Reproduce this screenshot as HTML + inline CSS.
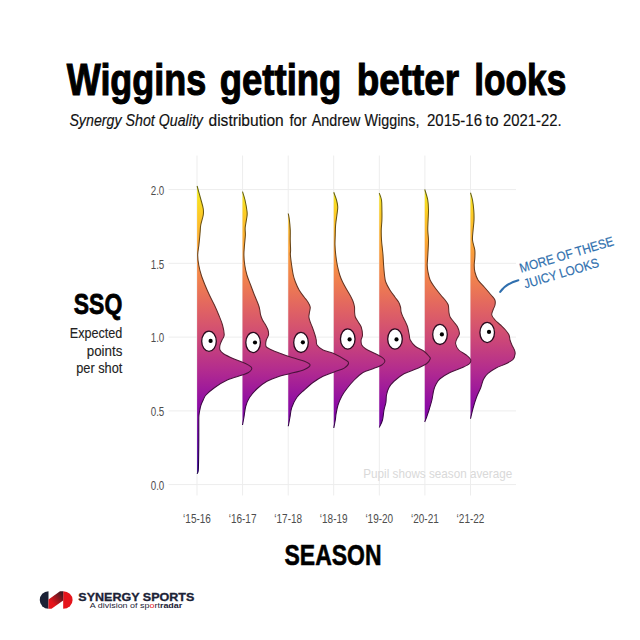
<!DOCTYPE html><html><head><meta charset="utf-8"><style>html,body{margin:0;padding:0;background:#fff;}svg{display:block;}</style></head><body><svg width="640" height="640" viewBox="0 0 640 640">
<defs><linearGradient id="pl" gradientUnits="userSpaceOnUse" x1="0" y1="500" x2="0" y2="180">
<stop offset="0.00" stop-color="#0d0887"/>
<stop offset="0.10" stop-color="#41049d"/>
<stop offset="0.20" stop-color="#6a00a8"/>
<stop offset="0.30" stop-color="#8f0da4"/>
<stop offset="0.40" stop-color="#b12a90"/>
<stop offset="0.50" stop-color="#cc4778"/>
<stop offset="0.60" stop-color="#e16462"/>
<stop offset="0.70" stop-color="#f2844b"/>
<stop offset="0.80" stop-color="#fca636"/>
<stop offset="0.90" stop-color="#fcce25"/>
<stop offset="1.00" stop-color="#f0f921"/>
</linearGradient>
<linearGradient id="pld" gradientUnits="userSpaceOnUse" x1="0" y1="500" x2="0" y2="180">
<stop offset="0.00" stop-color="#050338"/>
<stop offset="0.10" stop-color="#1b0141"/>
<stop offset="0.20" stop-color="#2c0046"/>
<stop offset="0.30" stop-color="#3c0544"/>
<stop offset="0.40" stop-color="#4a113c"/>
<stop offset="0.50" stop-color="#551d32"/>
<stop offset="0.60" stop-color="#5e2a29"/>
<stop offset="0.70" stop-color="#65371f"/>
<stop offset="0.80" stop-color="#694516"/>
<stop offset="0.90" stop-color="#69560f"/>
<stop offset="1.00" stop-color="#64680d"/>
</linearGradient>
<linearGradient id="lg" x1="0" y1="1" x2="1" y2="0"><stop offset="0.3" stop-color="#e5141b"/><stop offset="1" stop-color="#2a1a22"/></linearGradient>
</defs>
<rect width="640" height="640" fill="#fff"/>
<g stroke="#ededed" stroke-width="1" fill="none"><line x1="168.5" y1="189.6" x2="516" y2="189.6"/><line x1="168.5" y1="263.3" x2="516" y2="263.3"/><line x1="168.5" y1="337.1" x2="516" y2="337.1"/><line x1="168.5" y1="410.9" x2="516" y2="410.9"/><line x1="168.5" y1="484.6" x2="516" y2="484.6"/><line x1="197.0" y1="155.5" x2="197.0" y2="495.5"/><line x1="242.6" y1="155.5" x2="242.6" y2="495.5"/><line x1="288.2" y1="155.5" x2="288.2" y2="495.5"/><line x1="333.7" y1="155.5" x2="333.7" y2="495.5"/><line x1="379.3" y1="155.5" x2="379.3" y2="495.5"/><line x1="424.9" y1="155.5" x2="424.9" y2="495.5"/><line x1="470.5" y1="155.5" x2="470.5" y2="495.5"/></g>
<text x="150.70" y="194.80" font-family="Liberation Sans, sans-serif" font-size="12.40" font-weight="normal" font-style="normal" textLength="13.60" lengthAdjust="spacingAndGlyphs" fill="#4d4d4d">2.0</text>
<text x="150.70" y="268.50" font-family="Liberation Sans, sans-serif" font-size="12.40" font-weight="normal" font-style="normal" textLength="13.60" lengthAdjust="spacingAndGlyphs" fill="#4d4d4d">1.5</text>
<text x="150.70" y="342.30" font-family="Liberation Sans, sans-serif" font-size="12.40" font-weight="normal" font-style="normal" textLength="13.60" lengthAdjust="spacingAndGlyphs" fill="#4d4d4d">1.0</text>
<text x="150.70" y="416.10" font-family="Liberation Sans, sans-serif" font-size="12.40" font-weight="normal" font-style="normal" textLength="13.60" lengthAdjust="spacingAndGlyphs" fill="#4d4d4d">0.5</text>
<text x="150.70" y="489.80" font-family="Liberation Sans, sans-serif" font-size="12.40" font-weight="normal" font-style="normal" textLength="13.60" lengthAdjust="spacingAndGlyphs" fill="#4d4d4d">0.0</text>
<text x="183.10" y="523.40" font-family="Liberation Sans, sans-serif" font-size="12.40" font-weight="normal" font-style="normal" textLength="27.80" lengthAdjust="spacingAndGlyphs" fill="#4d4d4d">‘15-16</text>
<text x="228.70" y="523.40" font-family="Liberation Sans, sans-serif" font-size="12.40" font-weight="normal" font-style="normal" textLength="27.80" lengthAdjust="spacingAndGlyphs" fill="#4d4d4d">‘16-17</text>
<text x="274.30" y="523.40" font-family="Liberation Sans, sans-serif" font-size="12.40" font-weight="normal" font-style="normal" textLength="27.80" lengthAdjust="spacingAndGlyphs" fill="#4d4d4d">‘17-18</text>
<text x="319.80" y="523.40" font-family="Liberation Sans, sans-serif" font-size="12.40" font-weight="normal" font-style="normal" textLength="27.80" lengthAdjust="spacingAndGlyphs" fill="#4d4d4d">‘18-19</text>
<text x="365.40" y="523.40" font-family="Liberation Sans, sans-serif" font-size="12.40" font-weight="normal" font-style="normal" textLength="27.80" lengthAdjust="spacingAndGlyphs" fill="#4d4d4d">‘19-20</text>
<text x="411.00" y="523.40" font-family="Liberation Sans, sans-serif" font-size="12.40" font-weight="normal" font-style="normal" textLength="27.80" lengthAdjust="spacingAndGlyphs" fill="#4d4d4d">‘20-21</text>
<text x="456.60" y="523.40" font-family="Liberation Sans, sans-serif" font-size="12.40" font-weight="normal" font-style="normal" textLength="27.80" lengthAdjust="spacingAndGlyphs" fill="#4d4d4d">‘21-22</text>
<text x="363.30" y="478.40" font-family="Liberation Sans, sans-serif" font-size="13.60" font-weight="normal" font-style="normal" textLength="148.90" lengthAdjust="spacingAndGlyphs" fill="#d9d9d9">Pupil shows season average</text>
<path d="M470.50,192.75 L470.50,192.75 C470.83,193.96 471.96,197.12 472.50,200.00 C473.04,202.88 473.50,206.67 473.75,210.00 C474.00,213.33 474.11,216.67 474.00,220.00 C473.89,223.33 473.35,226.67 473.10,230.00 C472.85,233.33 472.22,236.67 472.50,240.00 C472.78,243.33 474.42,247.00 474.80,250.00 C475.18,253.00 474.90,255.50 474.80,258.00 C474.70,260.50 474.18,262.67 474.20,265.00 C474.22,267.33 474.27,269.50 474.90,272.00 C475.53,274.50 476.44,277.50 478.00,280.00 C479.56,282.50 482.07,284.50 484.25,287.00 C486.43,289.50 489.33,292.83 491.10,295.00 C492.88,297.17 494.25,298.33 494.90,300.00 C495.55,301.67 495.32,303.33 495.00,305.00 C494.68,306.67 493.54,308.33 493.00,310.00 C492.46,311.67 491.42,313.33 491.75,315.00 C492.08,316.67 493.54,318.33 495.00,320.00 C496.46,321.67 498.75,323.33 500.50,325.00 C502.25,326.67 504.08,328.33 505.50,330.00 C506.92,331.67 508.25,333.33 509.00,335.00 C509.75,336.67 509.52,338.33 510.00,340.00 C510.48,341.67 511.17,343.33 511.90,345.00 C512.63,346.67 513.87,348.52 514.40,350.00 C514.93,351.48 515.33,352.32 515.10,353.90 C514.87,355.48 514.52,357.86 513.00,359.50 C511.48,361.14 508.82,362.33 506.00,363.75 C503.18,365.17 499.15,366.36 496.10,368.00 C493.05,369.64 489.80,371.73 487.70,373.60 C485.60,375.47 484.67,376.85 483.50,379.20 C482.33,381.55 481.88,384.65 480.70,387.70 C479.52,390.75 477.70,393.99 476.40,397.50 C475.10,401.01 473.88,405.21 472.90,408.75 C471.92,412.29 470.90,417.08 470.50,418.75 L470.50,418.75 Z" fill="url(#pl)"/>
<path d="M470.50,192.75 C470.83,193.96 471.96,197.12 472.50,200.00 C473.04,202.88 473.50,206.67 473.75,210.00 C474.00,213.33 474.11,216.67 474.00,220.00 C473.89,223.33 473.35,226.67 473.10,230.00 C472.85,233.33 472.22,236.67 472.50,240.00 C472.78,243.33 474.42,247.00 474.80,250.00 C475.18,253.00 474.90,255.50 474.80,258.00 C474.70,260.50 474.18,262.67 474.20,265.00 C474.22,267.33 474.27,269.50 474.90,272.00 C475.53,274.50 476.44,277.50 478.00,280.00 C479.56,282.50 482.07,284.50 484.25,287.00 C486.43,289.50 489.33,292.83 491.10,295.00 C492.88,297.17 494.25,298.33 494.90,300.00 C495.55,301.67 495.32,303.33 495.00,305.00 C494.68,306.67 493.54,308.33 493.00,310.00 C492.46,311.67 491.42,313.33 491.75,315.00 C492.08,316.67 493.54,318.33 495.00,320.00 C496.46,321.67 498.75,323.33 500.50,325.00 C502.25,326.67 504.08,328.33 505.50,330.00 C506.92,331.67 508.25,333.33 509.00,335.00 C509.75,336.67 509.52,338.33 510.00,340.00 C510.48,341.67 511.17,343.33 511.90,345.00 C512.63,346.67 513.87,348.52 514.40,350.00 C514.93,351.48 515.33,352.32 515.10,353.90 C514.87,355.48 514.52,357.86 513.00,359.50 C511.48,361.14 508.82,362.33 506.00,363.75 C503.18,365.17 499.15,366.36 496.10,368.00 C493.05,369.64 489.80,371.73 487.70,373.60 C485.60,375.47 484.67,376.85 483.50,379.20 C482.33,381.55 481.88,384.65 480.70,387.70 C479.52,390.75 477.70,393.99 476.40,397.50 C475.10,401.01 473.88,405.21 472.90,408.75 C471.92,412.29 470.90,417.08 470.50,418.75 " fill="none" stroke="url(#pld)" stroke-width="1.05" stroke-linejoin="round"/>
<ellipse cx="487.20" cy="332.50" rx="7.3" ry="10.1" fill="#fff" stroke="#2a0a1e" stroke-width="1.3"/>
<circle cx="489.00" cy="331.90" r="2.1" fill="#000"/>
<path d="M424.75,189.40 L424.75,189.40 C425.25,191.17 427.12,196.57 427.75,200.00 C428.38,203.43 428.44,206.67 428.50,210.00 C428.56,213.33 428.23,216.67 428.10,220.00 C427.98,223.33 427.68,226.67 427.75,230.00 C427.82,233.33 428.44,236.67 428.50,240.00 C428.56,243.33 428.27,246.67 428.10,250.00 C427.93,253.33 427.65,257.50 427.50,260.00 C427.35,262.50 427.12,263.00 427.20,265.00 C427.28,267.00 427.52,269.50 428.00,272.00 C428.48,274.50 429.02,277.50 430.10,280.00 C431.18,282.50 432.73,284.50 434.50,287.00 C436.27,289.50 438.98,292.83 440.75,295.00 C442.52,297.17 443.85,298.33 445.10,300.00 C446.35,301.67 447.62,303.00 448.25,305.00 C448.88,307.00 448.59,310.00 448.90,312.00 C449.21,314.00 449.27,315.33 450.10,317.00 C450.93,318.67 452.65,320.33 453.90,322.00 C455.15,323.67 456.68,325.04 457.60,327.00 C458.52,328.96 459.52,331.79 459.40,333.75 C459.28,335.71 457.53,337.08 456.90,338.75 C456.27,340.42 455.29,341.88 455.60,343.75 C455.91,345.62 456.98,348.12 458.75,350.00 C460.52,351.88 464.27,353.43 466.25,355.00 C468.23,356.57 470.08,357.94 470.60,359.40 C471.12,360.86 470.75,362.40 469.40,363.75 C468.05,365.10 465.73,366.04 462.50,367.50 C459.27,368.96 453.75,370.62 450.00,372.50 C446.25,374.38 442.29,376.88 440.00,378.75 C437.71,380.62 437.29,381.88 436.25,383.75 C435.21,385.62 434.48,387.29 433.75,390.00 C433.02,392.71 432.62,396.88 431.90,400.00 C431.17,403.12 430.22,406.08 429.40,408.75 C428.58,411.42 427.77,413.79 427.00,416.00 C426.23,418.21 425.12,421.00 424.75,422.00 L424.75,422.00 Z" fill="url(#pl)"/>
<path d="M424.75,189.40 C425.25,191.17 427.12,196.57 427.75,200.00 C428.38,203.43 428.44,206.67 428.50,210.00 C428.56,213.33 428.23,216.67 428.10,220.00 C427.98,223.33 427.68,226.67 427.75,230.00 C427.82,233.33 428.44,236.67 428.50,240.00 C428.56,243.33 428.27,246.67 428.10,250.00 C427.93,253.33 427.65,257.50 427.50,260.00 C427.35,262.50 427.12,263.00 427.20,265.00 C427.28,267.00 427.52,269.50 428.00,272.00 C428.48,274.50 429.02,277.50 430.10,280.00 C431.18,282.50 432.73,284.50 434.50,287.00 C436.27,289.50 438.98,292.83 440.75,295.00 C442.52,297.17 443.85,298.33 445.10,300.00 C446.35,301.67 447.62,303.00 448.25,305.00 C448.88,307.00 448.59,310.00 448.90,312.00 C449.21,314.00 449.27,315.33 450.10,317.00 C450.93,318.67 452.65,320.33 453.90,322.00 C455.15,323.67 456.68,325.04 457.60,327.00 C458.52,328.96 459.52,331.79 459.40,333.75 C459.28,335.71 457.53,337.08 456.90,338.75 C456.27,340.42 455.29,341.88 455.60,343.75 C455.91,345.62 456.98,348.12 458.75,350.00 C460.52,351.88 464.27,353.43 466.25,355.00 C468.23,356.57 470.08,357.94 470.60,359.40 C471.12,360.86 470.75,362.40 469.40,363.75 C468.05,365.10 465.73,366.04 462.50,367.50 C459.27,368.96 453.75,370.62 450.00,372.50 C446.25,374.38 442.29,376.88 440.00,378.75 C437.71,380.62 437.29,381.88 436.25,383.75 C435.21,385.62 434.48,387.29 433.75,390.00 C433.02,392.71 432.62,396.88 431.90,400.00 C431.17,403.12 430.22,406.08 429.40,408.75 C428.58,411.42 427.77,413.79 427.00,416.00 C426.23,418.21 425.12,421.00 424.75,422.00 " fill="none" stroke="url(#pld)" stroke-width="1.05" stroke-linejoin="round"/>
<ellipse cx="440.00" cy="334.40" rx="7.3" ry="10.1" fill="#fff" stroke="#2a0a1e" stroke-width="1.3"/>
<circle cx="441.90" cy="334.40" r="2.1" fill="#000"/>
<path d="M379.25,193.10 L379.25,193.10 C379.62,194.25 381.06,197.18 381.50,200.00 C381.94,202.82 381.83,206.67 381.90,210.00 C381.97,213.33 382.01,216.67 381.90,220.00 C381.79,223.33 381.32,226.67 381.25,230.00 C381.18,233.33 381.29,236.67 381.50,240.00 C381.71,243.33 382.25,247.50 382.50,250.00 C382.75,252.50 382.82,252.50 383.00,255.00 C383.18,257.50 383.35,261.67 383.60,265.00 C383.85,268.33 384.14,272.17 384.50,275.00 C384.86,277.83 384.85,279.50 385.75,282.00 C386.65,284.50 388.38,287.50 389.90,290.00 C391.42,292.50 393.45,295.00 394.90,297.00 C396.35,299.00 397.67,300.33 398.60,302.00 C399.53,303.67 400.08,305.33 400.50,307.00 C400.92,308.67 400.68,310.33 401.10,312.00 C401.52,313.67 402.27,315.33 403.00,317.00 C403.73,318.67 404.73,320.33 405.50,322.00 C406.27,323.67 406.98,324.83 407.60,327.00 C408.23,329.17 408.81,332.83 409.25,335.00 C409.69,337.17 409.25,338.12 410.25,340.00 C411.25,341.88 412.96,344.38 415.25,346.25 C417.54,348.12 421.71,349.58 424.00,351.25 C426.29,352.92 427.96,355.00 429.00,356.25 C430.04,357.50 430.67,357.50 430.25,358.75 C429.83,360.00 428.79,362.08 426.50,363.75 C424.21,365.42 420.25,367.08 416.50,368.75 C412.75,370.42 407.75,371.67 404.00,373.75 C400.25,375.83 396.50,378.96 394.00,381.25 C391.50,383.54 390.25,385.21 389.00,387.50 C387.75,389.79 387.02,392.50 386.50,395.00 C385.98,397.50 386.32,400.00 385.90,402.50 C385.48,405.00 384.57,407.08 384.00,410.00 C383.43,412.92 383.29,417.08 382.50,420.00 C381.71,422.92 379.79,426.25 379.25,427.50 L379.25,427.50 Z" fill="url(#pl)"/>
<path d="M379.25,193.10 C379.62,194.25 381.06,197.18 381.50,200.00 C381.94,202.82 381.83,206.67 381.90,210.00 C381.97,213.33 382.01,216.67 381.90,220.00 C381.79,223.33 381.32,226.67 381.25,230.00 C381.18,233.33 381.29,236.67 381.50,240.00 C381.71,243.33 382.25,247.50 382.50,250.00 C382.75,252.50 382.82,252.50 383.00,255.00 C383.18,257.50 383.35,261.67 383.60,265.00 C383.85,268.33 384.14,272.17 384.50,275.00 C384.86,277.83 384.85,279.50 385.75,282.00 C386.65,284.50 388.38,287.50 389.90,290.00 C391.42,292.50 393.45,295.00 394.90,297.00 C396.35,299.00 397.67,300.33 398.60,302.00 C399.53,303.67 400.08,305.33 400.50,307.00 C400.92,308.67 400.68,310.33 401.10,312.00 C401.52,313.67 402.27,315.33 403.00,317.00 C403.73,318.67 404.73,320.33 405.50,322.00 C406.27,323.67 406.98,324.83 407.60,327.00 C408.23,329.17 408.81,332.83 409.25,335.00 C409.69,337.17 409.25,338.12 410.25,340.00 C411.25,341.88 412.96,344.38 415.25,346.25 C417.54,348.12 421.71,349.58 424.00,351.25 C426.29,352.92 427.96,355.00 429.00,356.25 C430.04,357.50 430.67,357.50 430.25,358.75 C429.83,360.00 428.79,362.08 426.50,363.75 C424.21,365.42 420.25,367.08 416.50,368.75 C412.75,370.42 407.75,371.67 404.00,373.75 C400.25,375.83 396.50,378.96 394.00,381.25 C391.50,383.54 390.25,385.21 389.00,387.50 C387.75,389.79 387.02,392.50 386.50,395.00 C385.98,397.50 386.32,400.00 385.90,402.50 C385.48,405.00 384.57,407.08 384.00,410.00 C383.43,412.92 383.29,417.08 382.50,420.00 C381.71,422.92 379.79,426.25 379.25,427.50 " fill="none" stroke="url(#pld)" stroke-width="1.05" stroke-linejoin="round"/>
<ellipse cx="395.00" cy="339.00" rx="7.3" ry="10.1" fill="#fff" stroke="#2a0a1e" stroke-width="1.3"/>
<circle cx="396.50" cy="339.40" r="2.1" fill="#000"/>
<path d="M333.75,192.25 L333.75,192.25 C334.21,193.54 335.83,197.54 336.50,200.00 C337.17,202.46 337.68,204.50 337.75,207.00 C337.82,209.50 337.26,212.00 336.90,215.00 C336.54,218.00 335.88,221.67 335.60,225.00 C335.33,228.33 335.35,231.67 335.25,235.00 C335.15,238.33 334.92,241.67 335.00,245.00 C335.08,248.33 335.38,251.67 335.75,255.00 C336.12,258.33 336.58,261.67 337.25,265.00 C337.92,268.33 338.86,272.17 339.75,275.00 C340.64,277.83 341.39,279.50 342.60,282.00 C343.81,284.50 345.60,287.50 347.00,290.00 C348.40,292.50 349.96,295.00 351.00,297.00 C352.04,299.00 352.67,300.33 353.25,302.00 C353.83,303.67 354.27,305.33 354.50,307.00 C354.73,308.67 354.47,310.33 354.60,312.00 C354.73,313.67 354.69,315.33 355.30,317.00 C355.91,318.67 357.27,320.33 358.25,322.00 C359.23,323.67 360.49,324.83 361.20,327.00 C361.91,329.17 362.52,332.83 362.50,335.00 C362.48,337.17 361.23,338.33 361.10,340.00 C360.98,341.67 361.02,343.54 361.75,345.00 C362.48,346.46 363.21,347.29 365.50,348.75 C367.79,350.21 372.58,352.19 375.50,353.75 C378.42,355.31 381.43,356.85 383.00,358.10 C384.57,359.35 385.11,360.10 384.90,361.25 C384.69,362.40 383.73,363.75 381.75,365.00 C379.77,366.25 376.12,367.50 373.00,368.75 C369.88,370.00 366.12,370.62 363.00,372.50 C359.88,374.38 356.96,377.29 354.25,380.00 C351.54,382.71 348.83,386.04 346.75,388.75 C344.67,391.46 343.21,393.54 341.75,396.25 C340.29,398.96 338.94,402.08 338.00,405.00 C337.06,407.92 336.55,411.25 336.10,413.75 C335.65,416.25 335.69,417.62 335.30,420.00 C334.91,422.38 334.01,426.67 333.75,428.00 L333.75,428.00 Z" fill="url(#pl)"/>
<path d="M333.75,192.25 C334.21,193.54 335.83,197.54 336.50,200.00 C337.17,202.46 337.68,204.50 337.75,207.00 C337.82,209.50 337.26,212.00 336.90,215.00 C336.54,218.00 335.88,221.67 335.60,225.00 C335.33,228.33 335.35,231.67 335.25,235.00 C335.15,238.33 334.92,241.67 335.00,245.00 C335.08,248.33 335.38,251.67 335.75,255.00 C336.12,258.33 336.58,261.67 337.25,265.00 C337.92,268.33 338.86,272.17 339.75,275.00 C340.64,277.83 341.39,279.50 342.60,282.00 C343.81,284.50 345.60,287.50 347.00,290.00 C348.40,292.50 349.96,295.00 351.00,297.00 C352.04,299.00 352.67,300.33 353.25,302.00 C353.83,303.67 354.27,305.33 354.50,307.00 C354.73,308.67 354.47,310.33 354.60,312.00 C354.73,313.67 354.69,315.33 355.30,317.00 C355.91,318.67 357.27,320.33 358.25,322.00 C359.23,323.67 360.49,324.83 361.20,327.00 C361.91,329.17 362.52,332.83 362.50,335.00 C362.48,337.17 361.23,338.33 361.10,340.00 C360.98,341.67 361.02,343.54 361.75,345.00 C362.48,346.46 363.21,347.29 365.50,348.75 C367.79,350.21 372.58,352.19 375.50,353.75 C378.42,355.31 381.43,356.85 383.00,358.10 C384.57,359.35 385.11,360.10 384.90,361.25 C384.69,362.40 383.73,363.75 381.75,365.00 C379.77,366.25 376.12,367.50 373.00,368.75 C369.88,370.00 366.12,370.62 363.00,372.50 C359.88,374.38 356.96,377.29 354.25,380.00 C351.54,382.71 348.83,386.04 346.75,388.75 C344.67,391.46 343.21,393.54 341.75,396.25 C340.29,398.96 338.94,402.08 338.00,405.00 C337.06,407.92 336.55,411.25 336.10,413.75 C335.65,416.25 335.69,417.62 335.30,420.00 C334.91,422.38 334.01,426.67 333.75,428.00 " fill="none" stroke="url(#pld)" stroke-width="1.05" stroke-linejoin="round"/>
<ellipse cx="347.75" cy="339.00" rx="7.3" ry="10.1" fill="#fff" stroke="#2a0a1e" stroke-width="1.3"/>
<circle cx="349.60" cy="339.40" r="2.1" fill="#000"/>
<path d="M288.25,213.50 L288.25,213.50 C288.44,214.58 289.07,217.25 289.40,220.00 C289.73,222.75 290.11,226.67 290.25,230.00 C290.39,233.33 290.19,236.67 290.25,240.00 C290.31,243.33 290.58,247.50 290.60,250.00 C290.62,252.50 290.23,252.50 290.40,255.00 C290.57,257.50 291.12,261.67 291.60,265.00 C292.08,268.33 292.62,272.17 293.25,275.00 C293.88,277.83 294.42,279.50 295.40,282.00 C296.38,284.50 297.65,287.50 299.10,290.00 C300.55,292.50 302.63,295.00 304.10,297.00 C305.57,299.00 306.88,300.33 307.90,302.00 C308.92,303.67 309.93,305.33 310.20,307.00 C310.47,308.67 309.72,310.33 309.50,312.00 C309.28,313.67 308.78,315.33 308.90,317.00 C309.02,318.67 309.64,320.33 310.20,322.00 C310.76,323.67 311.45,324.83 312.25,327.00 C313.05,329.17 314.33,332.83 315.00,335.00 C315.67,337.17 315.92,338.33 316.25,340.00 C316.58,341.67 315.88,343.33 317.00,345.00 C318.12,346.67 320.12,348.54 323.00,350.00 C325.88,351.46 330.50,352.08 334.25,353.75 C338.00,355.42 343.11,358.44 345.50,360.00 C347.89,361.56 348.81,361.75 348.60,363.10 C348.39,364.45 346.64,366.63 344.25,368.10 C341.86,369.57 337.79,370.54 334.25,371.90 C330.71,373.26 326.54,374.48 323.00,376.25 C319.46,378.02 316.12,380.21 313.00,382.50 C309.88,384.79 306.96,387.50 304.25,390.00 C301.54,392.50 298.83,394.58 296.75,397.50 C294.67,400.42 292.89,404.17 291.75,407.50 C290.61,410.83 290.48,414.38 289.90,417.50 C289.32,420.62 288.52,424.79 288.25,426.25 L288.25,426.25 Z" fill="url(#pl)"/>
<path d="M288.25,213.50 C288.44,214.58 289.07,217.25 289.40,220.00 C289.73,222.75 290.11,226.67 290.25,230.00 C290.39,233.33 290.19,236.67 290.25,240.00 C290.31,243.33 290.58,247.50 290.60,250.00 C290.62,252.50 290.23,252.50 290.40,255.00 C290.57,257.50 291.12,261.67 291.60,265.00 C292.08,268.33 292.62,272.17 293.25,275.00 C293.88,277.83 294.42,279.50 295.40,282.00 C296.38,284.50 297.65,287.50 299.10,290.00 C300.55,292.50 302.63,295.00 304.10,297.00 C305.57,299.00 306.88,300.33 307.90,302.00 C308.92,303.67 309.93,305.33 310.20,307.00 C310.47,308.67 309.72,310.33 309.50,312.00 C309.28,313.67 308.78,315.33 308.90,317.00 C309.02,318.67 309.64,320.33 310.20,322.00 C310.76,323.67 311.45,324.83 312.25,327.00 C313.05,329.17 314.33,332.83 315.00,335.00 C315.67,337.17 315.92,338.33 316.25,340.00 C316.58,341.67 315.88,343.33 317.00,345.00 C318.12,346.67 320.12,348.54 323.00,350.00 C325.88,351.46 330.50,352.08 334.25,353.75 C338.00,355.42 343.11,358.44 345.50,360.00 C347.89,361.56 348.81,361.75 348.60,363.10 C348.39,364.45 346.64,366.63 344.25,368.10 C341.86,369.57 337.79,370.54 334.25,371.90 C330.71,373.26 326.54,374.48 323.00,376.25 C319.46,378.02 316.12,380.21 313.00,382.50 C309.88,384.79 306.96,387.50 304.25,390.00 C301.54,392.50 298.83,394.58 296.75,397.50 C294.67,400.42 292.89,404.17 291.75,407.50 C290.61,410.83 290.48,414.38 289.90,417.50 C289.32,420.62 288.52,424.79 288.25,426.25 " fill="none" stroke="url(#pld)" stroke-width="1.05" stroke-linejoin="round"/>
<ellipse cx="301.00" cy="342.40" rx="7.3" ry="10.1" fill="#fff" stroke="#2a0a1e" stroke-width="1.3"/>
<circle cx="302.90" cy="342.30" r="2.1" fill="#000"/>
<path d="M242.50,191.60 L242.50,191.60 C242.92,193.00 244.25,196.72 245.00,200.00 C245.75,203.28 246.67,208.54 247.00,211.25 C247.33,213.96 247.30,213.54 247.00,216.25 C246.70,218.96 245.47,224.38 245.20,227.50 C244.93,230.62 245.52,232.08 245.40,235.00 C245.28,237.92 244.75,241.67 244.50,245.00 C244.25,248.33 243.86,251.67 243.90,255.00 C243.94,258.33 244.25,261.67 244.75,265.00 C245.25,268.33 245.93,271.67 246.90,275.00 C247.88,278.33 249.35,281.67 250.60,285.00 C251.85,288.33 253.08,291.67 254.40,295.00 C255.72,298.33 257.60,302.50 258.50,305.00 C259.40,307.50 259.45,308.33 259.80,310.00 C260.15,311.67 260.15,313.33 260.60,315.00 C261.05,316.67 261.67,318.33 262.50,320.00 C263.33,321.67 264.68,323.33 265.60,325.00 C266.52,326.67 267.52,328.33 268.00,330.00 C268.48,331.67 268.79,333.33 268.50,335.00 C268.21,336.67 266.71,338.33 266.25,340.00 C265.79,341.67 265.62,343.75 265.75,345.00 C265.88,346.25 265.54,346.46 267.00,347.50 C268.46,348.54 270.33,349.58 274.50,351.25 C278.67,352.92 287.00,355.83 292.00,357.50 C297.00,359.17 301.48,360.00 304.50,361.25 C307.52,362.50 310.10,363.64 310.10,365.00 C310.10,366.36 307.93,367.94 304.50,369.40 C301.07,370.86 293.67,372.61 289.50,373.75 C285.33,374.89 283.25,375.00 279.50,376.25 C275.75,377.50 270.75,379.17 267.00,381.25 C263.25,383.33 259.92,386.04 257.00,388.75 C254.08,391.46 251.38,394.58 249.50,397.50 C247.62,400.42 246.68,402.92 245.75,406.25 C244.82,409.58 244.44,414.38 243.90,417.50 C243.36,420.62 242.73,423.75 242.50,425.00 L242.50,425.00 Z" fill="url(#pl)"/>
<path d="M242.50,191.60 C242.92,193.00 244.25,196.72 245.00,200.00 C245.75,203.28 246.67,208.54 247.00,211.25 C247.33,213.96 247.30,213.54 247.00,216.25 C246.70,218.96 245.47,224.38 245.20,227.50 C244.93,230.62 245.52,232.08 245.40,235.00 C245.28,237.92 244.75,241.67 244.50,245.00 C244.25,248.33 243.86,251.67 243.90,255.00 C243.94,258.33 244.25,261.67 244.75,265.00 C245.25,268.33 245.93,271.67 246.90,275.00 C247.88,278.33 249.35,281.67 250.60,285.00 C251.85,288.33 253.08,291.67 254.40,295.00 C255.72,298.33 257.60,302.50 258.50,305.00 C259.40,307.50 259.45,308.33 259.80,310.00 C260.15,311.67 260.15,313.33 260.60,315.00 C261.05,316.67 261.67,318.33 262.50,320.00 C263.33,321.67 264.68,323.33 265.60,325.00 C266.52,326.67 267.52,328.33 268.00,330.00 C268.48,331.67 268.79,333.33 268.50,335.00 C268.21,336.67 266.71,338.33 266.25,340.00 C265.79,341.67 265.62,343.75 265.75,345.00 C265.88,346.25 265.54,346.46 267.00,347.50 C268.46,348.54 270.33,349.58 274.50,351.25 C278.67,352.92 287.00,355.83 292.00,357.50 C297.00,359.17 301.48,360.00 304.50,361.25 C307.52,362.50 310.10,363.64 310.10,365.00 C310.10,366.36 307.93,367.94 304.50,369.40 C301.07,370.86 293.67,372.61 289.50,373.75 C285.33,374.89 283.25,375.00 279.50,376.25 C275.75,377.50 270.75,379.17 267.00,381.25 C263.25,383.33 259.92,386.04 257.00,388.75 C254.08,391.46 251.38,394.58 249.50,397.50 C247.62,400.42 246.68,402.92 245.75,406.25 C244.82,409.58 244.44,414.38 243.90,417.50 C243.36,420.62 242.73,423.75 242.50,425.00 " fill="none" stroke="url(#pld)" stroke-width="1.05" stroke-linejoin="round"/>
<ellipse cx="253.10" cy="342.50" rx="7.3" ry="10.1" fill="#fff" stroke="#2a0a1e" stroke-width="1.3"/>
<circle cx="255.00" cy="342.50" r="2.1" fill="#000"/>
<path d="M197.10,186.00 L197.10,186.00 C197.75,188.33 199.97,196.21 201.00,200.00 C202.03,203.79 202.88,206.25 203.25,208.75 C203.62,211.25 203.67,212.29 203.25,215.00 C202.83,217.71 201.28,222.08 200.75,225.00 C200.22,227.92 200.41,229.17 200.10,232.50 C199.79,235.83 199.30,241.25 198.90,245.00 C198.50,248.75 197.72,251.67 197.70,255.00 C197.67,258.33 198.16,261.67 198.75,265.00 C199.34,268.33 200.21,271.67 201.25,275.00 C202.29,278.33 203.64,281.67 205.00,285.00 C206.36,288.33 207.83,291.67 209.40,295.00 C210.97,298.33 212.84,301.67 214.40,305.00 C215.96,308.33 217.40,311.67 218.75,315.00 C220.10,318.33 221.59,321.67 222.50,325.00 C223.41,328.33 224.28,332.50 224.20,335.00 C224.12,337.50 222.70,338.33 222.00,340.00 C221.30,341.67 220.33,343.33 220.00,345.00 C219.67,346.67 219.42,348.54 220.00,350.00 C220.58,351.46 221.25,352.29 223.50,353.75 C225.75,355.21 229.75,357.08 233.50,358.75 C237.25,360.42 243.08,362.39 246.00,363.75 C248.92,365.11 250.07,365.96 251.00,366.90 C251.93,367.84 252.02,368.47 251.60,369.40 C251.18,370.33 250.06,371.57 248.50,372.50 C246.94,373.43 245.79,373.75 242.25,375.00 C238.71,376.25 231.83,377.92 227.25,380.00 C222.67,382.08 218.29,385.00 214.75,387.50 C211.21,390.00 207.93,392.92 206.00,395.00 C204.07,397.08 204.03,398.33 203.20,400.00 C202.37,401.67 201.57,403.33 201.00,405.00 C200.43,406.67 200.13,408.33 199.80,410.00 C199.47,411.67 199.17,413.33 199.00,415.00 C198.83,416.67 198.83,415.83 198.80,420.00 C198.77,424.17 198.83,433.33 198.80,440.00 C198.77,446.67 198.70,454.83 198.60,460.00 C198.50,465.17 198.45,468.71 198.20,471.00 C197.95,473.29 197.28,473.29 197.10,473.75 L197.10,473.75 Z" fill="url(#pl)"/>
<path d="M197.10,186.00 C197.75,188.33 199.97,196.21 201.00,200.00 C202.03,203.79 202.88,206.25 203.25,208.75 C203.62,211.25 203.67,212.29 203.25,215.00 C202.83,217.71 201.28,222.08 200.75,225.00 C200.22,227.92 200.41,229.17 200.10,232.50 C199.79,235.83 199.30,241.25 198.90,245.00 C198.50,248.75 197.72,251.67 197.70,255.00 C197.67,258.33 198.16,261.67 198.75,265.00 C199.34,268.33 200.21,271.67 201.25,275.00 C202.29,278.33 203.64,281.67 205.00,285.00 C206.36,288.33 207.83,291.67 209.40,295.00 C210.97,298.33 212.84,301.67 214.40,305.00 C215.96,308.33 217.40,311.67 218.75,315.00 C220.10,318.33 221.59,321.67 222.50,325.00 C223.41,328.33 224.28,332.50 224.20,335.00 C224.12,337.50 222.70,338.33 222.00,340.00 C221.30,341.67 220.33,343.33 220.00,345.00 C219.67,346.67 219.42,348.54 220.00,350.00 C220.58,351.46 221.25,352.29 223.50,353.75 C225.75,355.21 229.75,357.08 233.50,358.75 C237.25,360.42 243.08,362.39 246.00,363.75 C248.92,365.11 250.07,365.96 251.00,366.90 C251.93,367.84 252.02,368.47 251.60,369.40 C251.18,370.33 250.06,371.57 248.50,372.50 C246.94,373.43 245.79,373.75 242.25,375.00 C238.71,376.25 231.83,377.92 227.25,380.00 C222.67,382.08 218.29,385.00 214.75,387.50 C211.21,390.00 207.93,392.92 206.00,395.00 C204.07,397.08 204.03,398.33 203.20,400.00 C202.37,401.67 201.57,403.33 201.00,405.00 C200.43,406.67 200.13,408.33 199.80,410.00 C199.47,411.67 199.17,413.33 199.00,415.00 C198.83,416.67 198.83,415.83 198.80,420.00 C198.77,424.17 198.83,433.33 198.80,440.00 C198.77,446.67 198.70,454.83 198.60,460.00 C198.50,465.17 198.45,468.71 198.20,471.00 C197.95,473.29 197.28,473.29 197.10,473.75 " fill="none" stroke="url(#pld)" stroke-width="1.05" stroke-linejoin="round"/>
<ellipse cx="209.00" cy="341.30" rx="7.3" ry="10.1" fill="#fff" stroke="#2a0a1e" stroke-width="1.3"/>
<circle cx="210.60" cy="340.90" r="2.1" fill="#000"/>
<text x="66.75" y="94.60" font-family="Liberation Sans, sans-serif" font-size="44.00" font-weight="bold" font-style="normal" textLength="139.53" lengthAdjust="spacingAndGlyphs" fill="#000" stroke="#000" stroke-width="1.1">Wiggins</text>
<text x="219.80" y="94.60" font-family="Liberation Sans, sans-serif" font-size="44.00" font-weight="bold" font-style="normal" textLength="121.51" lengthAdjust="spacingAndGlyphs" fill="#000" stroke="#000" stroke-width="1.1">getting</text>
<text x="356.75" y="94.60" font-family="Liberation Sans, sans-serif" font-size="44.00" font-weight="bold" font-style="normal" textLength="102.39" lengthAdjust="spacingAndGlyphs" fill="#000" stroke="#000" stroke-width="1.1">better</text>
<text x="474.25" y="94.60" font-family="Liberation Sans, sans-serif" font-size="44.00" font-weight="bold" font-style="normal" textLength="92.02" lengthAdjust="spacingAndGlyphs" fill="#000" stroke="#000" stroke-width="1.1">looks</text>
<text x="69.40" y="126.00" font-family="Liberation Sans, sans-serif" font-size="16.20" font-weight="normal" font-style="italic" textLength="133.55" lengthAdjust="spacingAndGlyphs" fill="#111" stroke="#111" stroke-width="0.15">Synergy Shot Quality</text>
<text x="208.50" y="126.00" font-family="Liberation Sans, sans-serif" font-size="16.20" font-weight="normal" font-style="normal" textLength="75.22" lengthAdjust="spacingAndGlyphs" fill="#111" stroke="#111" stroke-width="0.15">distribution</text>
<text x="289.40" y="126.00" font-family="Liberation Sans, sans-serif" font-size="16.20" font-weight="normal" font-style="normal" textLength="17.33" lengthAdjust="spacingAndGlyphs" fill="#111" stroke="#111" stroke-width="0.15">for</text>
<text x="311.80" y="126.00" font-family="Liberation Sans, sans-serif" font-size="16.20" font-weight="normal" font-style="normal" textLength="48.64" lengthAdjust="spacingAndGlyphs" fill="#111" stroke="#111" stroke-width="0.15">Andrew</text>
<text x="364.50" y="126.00" font-family="Liberation Sans, sans-serif" font-size="16.20" font-weight="normal" font-style="normal" textLength="54.99" lengthAdjust="spacingAndGlyphs" fill="#111" stroke="#111" stroke-width="0.15">Wiggins,</text>
<text x="427.00" y="126.00" font-family="Liberation Sans, sans-serif" font-size="16.20" font-weight="normal" font-style="normal" textLength="55.00" lengthAdjust="spacingAndGlyphs" fill="#111" stroke="#111" stroke-width="0.15">2015-16</text>
<text x="485.60" y="126.00" font-family="Liberation Sans, sans-serif" font-size="16.20" font-weight="normal" font-style="normal" textLength="12.88" lengthAdjust="spacingAndGlyphs" fill="#111" stroke="#111" stroke-width="0.15">to</text>
<text x="503.10" y="126.00" font-family="Liberation Sans, sans-serif" font-size="16.20" font-weight="normal" font-style="normal" textLength="58.57" lengthAdjust="spacingAndGlyphs" fill="#111" stroke="#111" stroke-width="0.15">2021-22.</text>
<text x="73.80" y="313.50" font-family="Liberation Sans, sans-serif" font-size="29.60" font-weight="bold" font-style="normal" textLength="48.44" lengthAdjust="spacingAndGlyphs" fill="#000" stroke="#000" stroke-width="0.8">SSQ</text>
<text x="69.80" y="337.70" font-family="Liberation Sans, sans-serif" font-size="13.80" font-weight="normal" font-style="normal" textLength="52.59" lengthAdjust="spacingAndGlyphs" fill="#222" stroke="#222" stroke-width="0.12">Expected</text>
<text x="86.80" y="355.60" font-family="Liberation Sans, sans-serif" font-size="13.80" font-weight="normal" font-style="normal" textLength="35.58" lengthAdjust="spacingAndGlyphs" fill="#222" stroke="#222" stroke-width="0.12">points</text>
<text x="76.20" y="373.30" font-family="Liberation Sans, sans-serif" font-size="13.80" font-weight="normal" font-style="normal" textLength="46.18" lengthAdjust="spacingAndGlyphs" fill="#222" stroke="#222" stroke-width="0.12">per shot</text>
<text x="284.50" y="565.40" font-family="Liberation Sans, sans-serif" font-size="30.30" font-weight="bold" font-style="normal" textLength="96.96" lengthAdjust="spacingAndGlyphs" fill="#000" stroke="#000" stroke-width="0.6">SEASON</text>
<g transform="translate(521,272.8) rotate(-16.5)" font-family="Liberation Sans, sans-serif" font-size="13" fill="#2f6fae" stroke="#2f6fae" stroke-width="0.2"><text x="0" y="0" textLength="97.5" lengthAdjust="spacingAndGlyphs">MORE OF THESE</text><text x="-0.3" y="16.4" textLength="77.5" lengthAdjust="spacingAndGlyphs">JUICY LOOKS</text></g>
<path d="M500.2,291.9 Q506,283.5 518.4,280.2" fill="none" stroke="#2f6fae" stroke-width="2" stroke-linecap="round"/>
<path d="M48.5,591.3 A8.75,8.75 0 0 0 48.5,608.8 Z" fill="#1b2236"/>
<path d="M63.2,591.3 A9.4,8.75 0 0 1 63.2,608.8 Z" fill="#e5141b"/>
<path d="M48.5,599.5 L60,591.3 L63.2,591.3 L63.2,600.5 L51.5,608.8 L48.5,608.8 Z" fill="url(#lg)"/>
<text x="78.3" y="601.3" font-family="Liberation Sans, sans-serif" font-weight="bold" font-size="11.3" fill="#1b2236" stroke="#1b2236" stroke-width="0.3" textLength="116" lengthAdjust="spacingAndGlyphs">SYNERGY SPORTS</text>
<text x="89.8" y="608.4" font-family="Liberation Sans, sans-serif" font-size="7.4" fill="#1b2236" textLength="92.5" lengthAdjust="spacingAndGlyphs">A division of sp<tspan fill="#e5141b">o</tspan>rt<tspan font-weight="bold">radar</tspan></text>
</svg></body></html>
